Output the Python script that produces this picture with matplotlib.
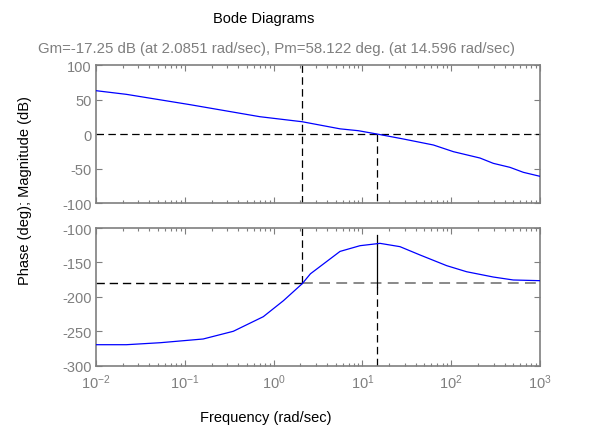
import matplotlib
matplotlib.use("Agg")
import matplotlib.pyplot as plt
from matplotlib.ticker import LogLocator, FixedLocator, NullFormatter

plt.rcParams['font.family'] = ['Liberation Sans', 'DejaVu Sans']
plt.rcParams['mathtext.fontset'] = 'custom'
plt.rcParams['mathtext.rm'] = 'Liberation Sans'
plt.rcParams['mathtext.it'] = 'Liberation Sans'
plt.rcParams['axes.unicode_minus'] = False

# ---- data ----
freq_mag = [0.01, 0.022, 0.115, 0.70, 2.10, 5.6, 9.0, 14.6, 28.9, 63, 106, 211, 298, 459, 649, 1000]
mag_db = [62.8, 57.5, 42.5, 25.1, 17.8, 7.5, 4.8, 0.0, -7.2, -15.9, -25.6, -34.8, -42.5, -48.3, -55.5, -61.3]

freq_phase = [0.01, 0.022, 0.053, 0.161, 0.352, 0.766, 1.29, 2.10, 2.6, 5.6, 9.4, 15.8, 26.5, 44.6, 89, 149, 298, 500, 1000]
phase_deg = [-269.5, -269.5, -266.6, -261.2, -250, -228.8, -205.6, -180.9, -166.5, -134, -125.7, -122.3,
             -127.1, -139.2, -154.7, -163.5, -171.2, -175.5, -176.5]

gm_db = -17.25
wcg = 2.0851
pm = 58.122
wcp = 14.596

mag_ticks = [-100, -50, 0, 50, 100]
phase_ticks = [-300, -250, -200, -150, -100]
x_range = (1e-2, 1e3)

title = "Bode Diagrams"
subtitle = "Gm=-17.25 dB (at 2.0851 rad/sec), Pm=58.122 deg. (at 14.596 rad/sec)"
xlabel = "Frequency (rad/sec)"
ylabel = "Phase (deg); Magnitude (dB)"

# ---- figure ----
gray = '#7f7f7f'
dash = (0, (6, 3.5))
fig = plt.figure(figsize=(5.98, 4.27), dpi=100)
ax1 = fig.add_axes([0.1605, 0.5222, 0.7425, 0.3232])
ax2 = fig.add_axes([0.1605, 0.1412, 0.7425, 0.3225])

for ax, ticks in ((ax1, mag_ticks), (ax2, phase_ticks)):
    ax.set_xscale('log')
    ax.set_xlim(*x_range)
    ax.set_ylim(ticks[0], ticks[-1])
    ax.yaxis.set_major_locator(FixedLocator(ticks))
    ax.xaxis.set_major_locator(LogLocator(base=10, numticks=20))
    ax.xaxis.set_minor_locator(LogLocator(base=10, subs=range(2, 10), numticks=20))
    ax.xaxis.set_minor_formatter(NullFormatter())
    ax.tick_params(which='both', direction='in', top=True, right=True, colors=gray,
                   labelcolor=gray, labelsize=10.5, width=0.8)
    ax.tick_params(which='major', length=4)
    ax.tick_params(which='minor', length=2.5)
    ax.tick_params(axis='x', pad=5)
    ax.tick_params(axis='y', pad=3)
    for s in ax.spines.values():
        s.set_color(gray)
        s.set_linewidth(1.2)

ax1.tick_params(labelbottom=False)

# magnitude
ax1.plot(freq_mag, mag_db, color='#0000ff', lw=0.9, zorder=3)
ax1.axhline(0, color='black', ls=dash, lw=0.9, zorder=2)
ax1.axvline(wcg, color='black', ls=dash, lw=0.9, zorder=2)
ax1.plot([wcp, wcp], [0, -100], color='black', ls=dash, lw=0.9, zorder=2)

# phase
ax2.plot(freq_phase, phase_deg, color='#0000ff', lw=0.9, zorder=3)
ax2.plot([x_range[0], wcg], [-180, -180], color='black', ls=dash, lw=1.0, zorder=2)
ax2.plot([wcg, x_range[1]], [-180, -180], color='#808080', ls=dash, lw=1.3, zorder=2)
ax2.plot([wcg, wcg], [-100, -180], color='black', ls=dash, lw=0.9, zorder=2)
ax2.plot([wcp, wcp], [-110, -186], color='black', ls='-', lw=0.9, zorder=2)
ax2.plot([wcp, wcp], [-186, -300], color='black', ls=dash, lw=0.9, zorder=2)

# texts
fig.text(264 / 598, 1 - 19 / 427, title, ha='center', va='center', fontsize=10.5, color='black')
fig.text(276 / 598, 1 - 49 / 427, subtitle, ha='center', va='center', fontsize=10.8, color=gray)
fig.text(266 / 598, 1 - 418 / 427, xlabel, ha='center', va='center', fontsize=10.5, color='black')
fig.text(25 / 598, 1 - 191 / 427, ylabel, ha='center', va='center', rotation=90, fontsize=10.5, color='black')

fig.savefig('out.png', dpi=100)
